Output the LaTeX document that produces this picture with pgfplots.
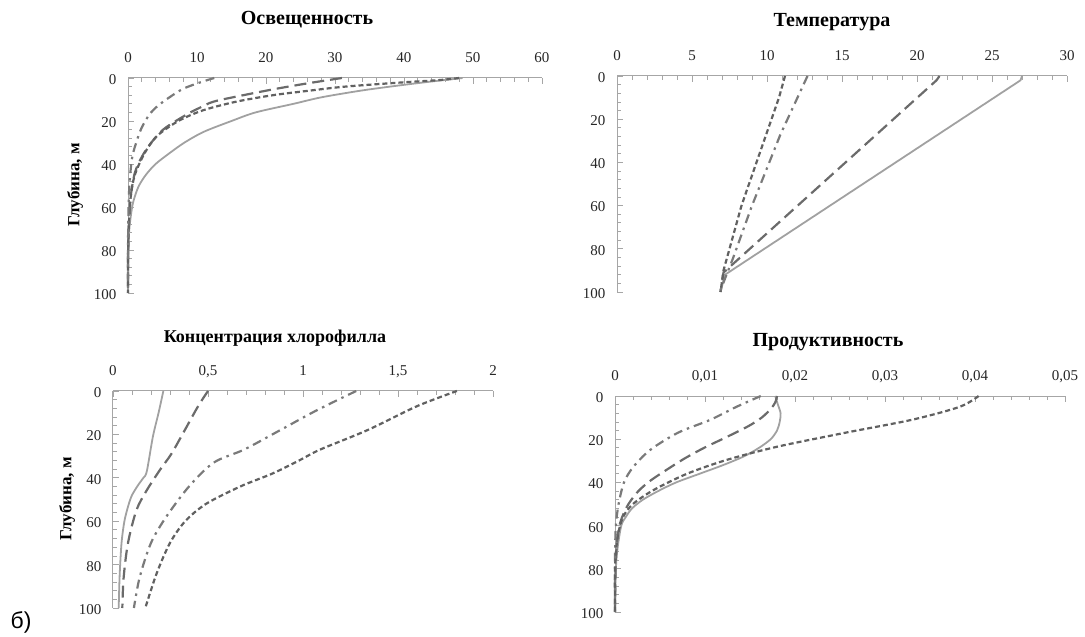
\documentclass[border=0pt]{standalone}
\usepackage{fontspec}
\setmainfont{Liberation Serif}
\newfontfamily\arialfont{Liberation Sans}
\usepackage{pgfplots}
\pgfplotsset{compat=1.18}
\definecolor{axgray}{gray}{0.65}
\definecolor{csolid}{gray}{0.63}
\definecolor{clong}{gray}{0.42}
\definecolor{cshort}{gray}{0.38}
\definecolor{cdd}{gray}{0.48}
\pgfplotsset{
  panel/.style={
    scale only axis, anchor=south west, clip=false,
    y dir=reverse, ymin=0, ymax=100, ytick={0,20,40,60,80,100},
    axis x line*=top, axis y line*=left,
    axis line style={draw=axgray, line width=1pt, -},
    major tick length=6pt, minor tick length=4pt, tick align=inside,
    tick style={draw=axgray, line width=0.8pt},
    minor tick num=4,
    typeset ticklabels with strut,
    ticklabel style={font=\fontsize{15}{17}\selectfont, text=black!85},
    xticklabel style={yshift=7pt},
    yticklabel style={xshift=-8pt, yshift=-3pt},
    /pgf/number format/assume math mode=true,
  },
  s1/.style={csolid, line width=1.8pt, smooth},
  s2/.style={clong, line width=2.2pt, dash pattern=on 12pt off 6pt, smooth},
  s3/.style={cshort, line width=2.2pt, dash pattern=on 5pt off 3pt, smooth},
  s4/.style={cdd, line width=2.2pt, dash pattern=on 9pt off 5pt on 2.5pt off 5pt, smooth},
}
\begin{document}
\begin{tikzpicture}
\path[use as bounding box] (0pt,0pt) rectangle (1085pt,637pt);

% Top-left
\begin{axis}[panel, at={(128pt,344pt)}, width=414pt, height=215pt,
  xmin=0, xmax=60, xtick={0,10,...,60}]
\addplot[s1] coordinates {(48.5,0)(43,2)(38,4)(33.5,6)(28,9)(24,12)(18.5,16)(15,20)(11,25)(8.2,30)(6,35)(4,40)(2.6,45)(1.6,50)(1,55)(0.6,60)(0.2,70)(0.08,80)(0.02,90)(0,100)};
\addplot[s2] coordinates {(31,0)(26,2.5)(21.5,5)(16.7,8)(12.4,11)(10.3,14)(8.5,17)(5.1,24)(2.7,33)(1.1,43)(0.4,55)(0.1,70)(0,85)(0,100)};
\addplot[s3] coordinates {(48,0)(45,1)(40,2)(31.5,4)(26,6)(21,8)(15.7,11)(10.9,15)(7.3,20)(4.2,27)(2.4,35)(1,45)(0.4,55)(0.1,70)(0,85)(0,100)};
\addplot[s4] coordinates {(12.5,0)(10.5,2)(8,5)(6,9)(4.3,13)(3.1,17)(2,23)(1.3,29)(0.6,37)(0.2,50)(0.05,65)(0,80)(0,100)};
\end{axis}

% Top-right
\begin{axis}[panel, at={(617pt,345pt)}, width=450pt, height=216pt,
  xmin=0, xmax=30, xtick={0,5,...,30}]
\addplot[s1, sharp plot] coordinates {(27,0)(26.9,2)(7.2,92)(6.9,100)};
\addplot[s2, sharp plot] coordinates {(21.5,0)(21.3,2)(7.1,91)(6.9,100)};
\addplot[s3, sharp plot] coordinates {(11.2,0)(10.8,10)(10.3,20)(9.8,30)(9.3,40)(8.8,50)(8.3,60)(7.9,70)(7.5,80)(7.1,90)(6.9,100)};
\addplot[s4, sharp plot] coordinates {(12.7,0)(12.5,3)(10.9,27)(9.0,60)(7.7,85)(6.85,100)};
\end{axis}

% Bottom-left
\begin{axis}[panel, at={(113pt,29pt)}, width=380pt, height=217pt,
  xmin=0, xmax=2, xtick={0,0.5,1,1.5,2}, xticklabels={0,{0,5},1,{1,5},2}]
\addplot[s1] coordinates {(0.265,0)(0.24,10)(0.21,21)(0.178,37)(0.16,40)(0.135,43)(0.1,48)(0.08,53)(0.06,60)(0.045,70)(0.035,85)(0.03,100)};
\addplot[s2] coordinates {(0.5,0)(0.448,7)(0.378,18)(0.307,29)(0.246,36.5)(0.176,46)(0.123,55)(0.079,70)(0.056,86)(0.049,100)};
\addplot[s4] coordinates {(1.28,0)(1.07,9)(0.86,19)(0.69,27)(0.53,33)(0.40,44)(0.28,58)(0.2,70)(0.14,86)(0.11,100)};
\addplot[s3] coordinates {(1.81,0)(1.6,7)(1.34,18)(1.09,27)(0.98,32)(0.84,38)(0.67,44)(0.49,52)(0.38,60)(0.3,70)(0.23,84)(0.17,100)};
\end{axis}

% Bottom-right
\begin{axis}[panel, at={(615pt,25pt)}, width=450pt, height=216pt,
  xmin=0, xmax=0.05, xtick={0,0.01,0.02,0.03,0.04,0.05}, xticklabels={0,{0,01},{0,02},{0,03},{0,04},{0,05}},
  scaled x ticks=false]
\addplot[s1] coordinates {(0.0178,0)(0.0181,4)(0.0184,8)(0.0183,12)(0.018,16)(0.0173,20)(0.016,24)(0.0143,28)(0.012,32)(0.0094,36)(0.0068,40)(0.0048,44)(0.0031,48)(0.0019,52)(0.0012,56)(0.0007,60)(0.0003,70)(0.0001,80)(0,100)};
\addplot[s2] coordinates {(0.018,0)(0.0178,3)(0.0173,6)(0.0163,10)(0.0148,14)(0.0124,19)(0.0099,24)(0.0077,29)(0.0058,34)(0.004,39)(0.0026,44)(0.0015,50)(0.0008,56)(0.0004,62)(0.0001,75)(0,100)};
\addplot[s4] coordinates {(0.0162,0)(0.0135,5)(0.0106,11)(0.007,17)(0.0039,25)(0.002,33)(0.001,40)(0.0004,50)(0.0001,60)(0,75)(0,100)};
\addplot[s3] coordinates {(0.0404,0)(0.0383,5)(0.033,11)(0.0256,17)(0.018,23.5)(0.0124,29.6)(0.008,36)(0.0043,43.5)(0.002,50)(0.0009,56)(0.0003,65)(0,80)(0,100)};
\end{axis}

\node[font=\bfseries\fontsize{20}{22}\selectfont] at (307pt,617pt) {Освещенность};
\node[font=\bfseries\fontsize{20}{22}\selectfont] at (832pt,615pt) {Температура};
\node[font=\bfseries\fontsize{18}{20}\selectfont] at (275pt,299pt) {Концентрация хлорофилла};
\node[font=\bfseries\fontsize{20}{22}\selectfont] at (828pt,295pt) {Продуктивность};
\node[font=\bfseries\fontsize{17}{19}\selectfont, rotate=90] at (75pt,452pt) {Глубина, м};
\node[font=\bfseries\fontsize{17}{19}\selectfont, rotate=90] at (67pt,138pt) {Глубина, м};
\node[font=\arialfont\fontsize{23}{25}\selectfont] at (21pt,15pt) {б)};
\end{tikzpicture}
\end{document}
